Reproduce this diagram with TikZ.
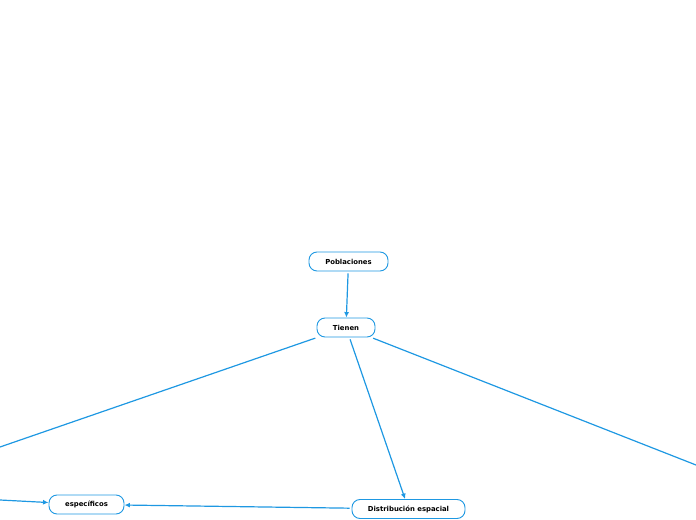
\documentclass[tikz,border=0pt]{standalone}
\usepackage{fontspec}
\setmainfont{DejaVu Sans}
\usepackage{tikz}
\usetikzlibrary{arrows.meta}

\definecolor{mapblue}{RGB}{30,152,226}

\begin{document}
\begin{tikzpicture}[x=1bp, y=-1bp,
  topic/.style={draw=mapblue, line width=0.9bp, fill=white, rounded corners=8bp,
    minimum height=19bp, inner sep=0pt, font=\fontsize{6.9}{8}\selectfont\bfseries},
  link/.style={mapblue, line width=1.2bp, shorten <=2bp},
  linkarr/.style={link, -{Latex[length=5.5bp,width=5bp]}}]
  \useasboundingbox (0,0) rectangle (696,520);

  % nodi
  \node[topic, minimum width=79bp] (pobl) at (348.5,261.5) {Poblaciones};
  \node[topic, minimum width=58bp] (tien) at (346,327.5) {Tienen};
  \node[topic, minimum width=75bp] (espe) at (86.5,504.5) {específicos};
  \node[topic, minimum width=113bp] (dist) at (408.5,509) {Distribución espacial};

  % estremi fuori dal foglio
  \coordinate (fuorisx) at (0,447);
  \coordinate (fuoridx) at (696,465);
  \coordinate (fuoriesp) at (0,500);

  % collegamenti
  \draw[linkarr] (pobl) -- (tien);
  \draw[link] (tien) -- (fuorisx);
  \draw[link] (tien) -- (fuoridx);
  \draw[linkarr] (tien) -- (dist);
  \draw[linkarr] (dist) -- (espe);
  \draw[linkarr, shorten <=0bp] (fuoriesp) -- (espe);
\end{tikzpicture}
\end{document}
